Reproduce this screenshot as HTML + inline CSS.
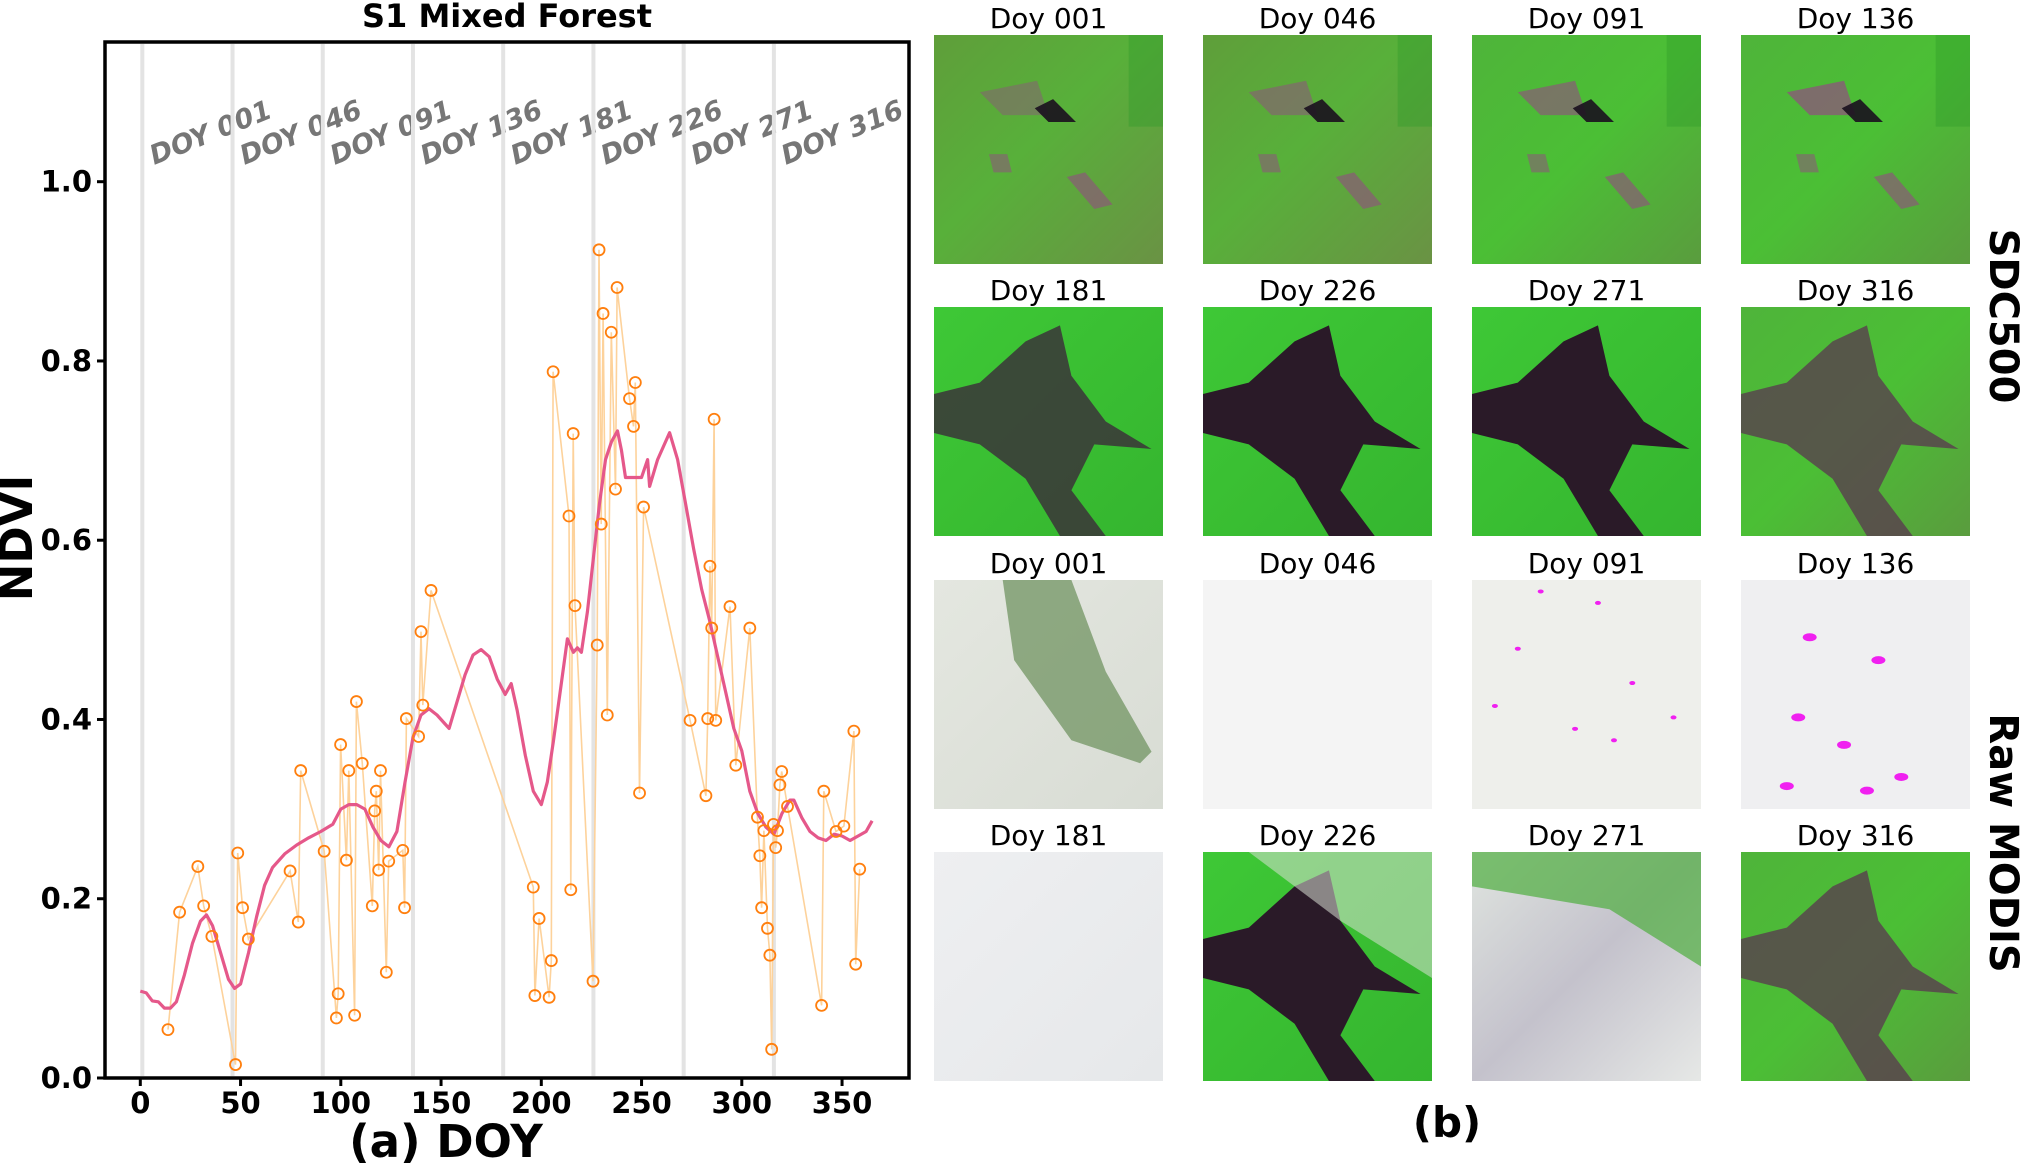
<!DOCTYPE html>
<html><head><meta charset="utf-8"><style>
html,body{margin:0;padding:0;background:#fff;}
svg{display:block;}
text{font-family:"DejaVu Sans","Liberation Sans",sans-serif;}
</style></head><body>
<svg id="root" width="2024" height="1163" viewBox="0 0 2024 1163" xmlns="http://www.w3.org/2000/svg">
<defs>
<linearGradient id="gOlive" x1="0" y1="0" x2="1" y2="1"><stop offset="0" stop-color="#5f9e3a"/><stop offset="0.45" stop-color="#58b03a"/><stop offset="1" stop-color="#6a9244"/></linearGradient>
<linearGradient id="gOlive2" x1="0" y1="0" x2="1" y2="1"><stop offset="0" stop-color="#4fb43a"/><stop offset="0.5" stop-color="#4bbf35"/><stop offset="1" stop-color="#5a9c3e"/></linearGradient>
<linearGradient id="gGreen" x1="0" y1="0" x2="1" y2="1"><stop offset="0" stop-color="#3ec836"/><stop offset="1" stop-color="#35b52f"/></linearGradient>
<linearGradient id="gCloud" x1="0" y1="0" x2="1" y2="1"><stop offset="0" stop-color="#e4e7e0"/><stop offset="1" stop-color="#d8dcd4"/></linearGradient>
<linearGradient id="gCloud2" x1="0" y1="0" x2="1" y2="1"><stop offset="0" stop-color="#eeeff1"/><stop offset="1" stop-color="#e6e8ea"/></linearGradient>
<linearGradient id="gMix" x1="0" y1="0" x2="1" y2="1"><stop offset="0" stop-color="#dfe4df"/><stop offset="0.5" stop-color="#c4c2cc"/><stop offset="1" stop-color="#e6e8e6"/></linearGradient>
</defs>
<g id="chart"></g>
<g id="panels"></g>
</svg>
<script>
const curveDays=[0,3,6,9,12,15,18,22,26,30,33,36,40,44,47,50,54,58,62,66,72,78,84,90,96,100,104,108,112,116,120,124,128,132,136,140,144,148,152,154,158,162,166,170,174,178,182,185,188,192,196,200,203,206,210,213,216,218,220,223,226,229,232,235,238,240,242,246,250,253,254,258,262,264,268,272,276,280,284,288,292,296,300,304,308,312,316,320,324,326,330,334,338,342,346,350,354,358,362,365];
const curveNdvi=[0.097,0.095,0.086,0.085,0.078,0.078,0.085,0.115,0.15,0.175,0.182,0.17,0.14,0.11,0.1,0.105,0.14,0.18,0.215,0.235,0.25,0.26,0.268,0.275,0.283,0.3,0.305,0.305,0.3,0.28,0.265,0.258,0.275,0.33,0.38,0.405,0.412,0.405,0.395,0.39,0.42,0.45,0.472,0.478,0.47,0.445,0.428,0.44,0.41,0.36,0.32,0.305,0.33,0.375,0.44,0.49,0.475,0.48,0.475,0.52,0.58,0.64,0.69,0.71,0.722,0.7,0.67,0.67,0.67,0.69,0.66,0.69,0.71,0.72,0.69,0.64,0.59,0.545,0.51,0.47,0.43,0.39,0.365,0.32,0.295,0.28,0.272,0.295,0.31,0.31,0.29,0.275,0.268,0.265,0.272,0.27,0.265,0.27,0.275,0.287];
const rawDays=[13.8,19.6,28.7,31.6,35.7,47.5,48.6,51,53.9,74.7,78.8,80,91.7,97.8,98.7,99.9,102.8,104,106.9,107.8,110.7,115.7,116.9,117.7,118.9,119.8,122.7,123.9,130.9,131.8,132.7,138.8,140,140.9,145,196,196.8,198.9,203.9,205,205.9,213.8,214.7,215.9,216.8,225.8,227.9,228.8,229.9,230.8,232.9,234.9,237,237.8,244,246,246.9,249,251,274.2,282.1,283,284.1,285,286.2,287,294.1,297,304,307.8,309,309.9,311,312.8,314,314.9,315.8,316.9,317.8,319,319.9,322.8,339.8,340.9,347,350.9,355.9,356.8,358.8];
const rawNdvi=[0.054,0.185,0.236,0.192,0.158,0.015,0.251,0.19,0.155,0.231,0.174,0.343,0.253,0.067,0.094,0.372,0.243,0.343,0.07,0.42,0.351,0.192,0.298,0.32,0.232,0.343,0.118,0.242,0.254,0.19,0.401,0.381,0.498,0.416,0.544,0.213,0.092,0.178,0.09,0.131,0.788,0.627,0.21,0.719,0.527,0.108,0.483,0.924,0.618,0.853,0.405,0.832,0.657,0.882,0.758,0.727,0.776,0.318,0.637,0.399,0.315,0.401,0.571,0.502,0.735,0.399,0.526,0.349,0.502,0.291,0.248,0.19,0.276,0.167,0.137,0.032,0.283,0.257,0.276,0.327,0.342,0.303,0.081,0.32,0.275,0.281,0.387,0.127,0.233];
const xTicks=[0,50,100,150,200,250,300,350];
const yTicks=[0.0,0.2,0.4,0.6,0.8,1.0];
const doyMarks=[1,46,91,136,181,226,271,316];
const doyLabels=["DOY 001","DOY 046","DOY 091","DOY 136","DOY 181","DOY 226","DOY 271","DOY 316"];

const NS="http://www.w3.org/2000/svg";
function mk(tag,attrs,parent,txt){const e=document.createElementNS(NS,tag);for(const k in attrs)e.setAttribute(k,attrs[k]);if(txt!==undefined)e.textContent=txt;parent.appendChild(e);return e;}
const X=d=>140.3+d*2.005;
const Y=v=>1078-v*896.3;
const chart=document.getElementById('chart');

doyMarks.forEach((d,i)=>{
  const l=mk('line',{x1:X(d),x2:X(d),y1:44,y2:1076,stroke:'#e3e3e3','stroke-width':4},chart);
  
  
  const t=mk('text',{x:X(d)+12,y:165,fill:'#767676','font-size':27,'font-weight':'bold','font-style':'italic','font-family':'Liberation Sans, sans-serif',transform:`rotate(-22 ${X(d)+12} 165)`},chart,doyLabels[i]);
  
  
});

const rawPath=rawDays.map((d,i)=>(i?'L':'M')+X(d).toFixed(1)+' '+Y(rawNdvi[i]).toFixed(1)).join(' ');
const rl=mk('path',{d:rawPath,fill:'none',stroke:'#fdd29b','stroke-width':1.6},chart);


const cPath=curveDays.map((d,i)=>(i?'L':'M')+X(d).toFixed(1)+' '+Y(curveNdvi[i]).toFixed(1)).join(' ');
const cl=mk('path',{d:cPath,fill:'none',stroke:'#e5588a','stroke-width':3.2,'stroke-linejoin':'round'},chart);


rawDays.forEach((d,i)=>{
  const c=mk('circle',{cx:X(d),cy:Y(rawNdvi[i]),r:5.5,fill:'none',stroke:'#ff7f0e','stroke-width':1.8},chart);
  
  
});
const fr=mk('rect',{x:105,y:42,width:804,height:1036,fill:'none',stroke:'#000','stroke-width':3.5},chart);


xTicks.forEach(v=>{
  mk('line',{x1:X(v),x2:X(v),y1:1078,y2:1086,stroke:'#000','stroke-width':3},chart);
  const t=mk('text',{x:X(v),y:1113,'text-anchor':'middle','font-size':29,'font-weight':'bold'},chart,String(v));
  
  
});
yTicks.forEach(v=>{
  mk('line',{x1:97,x2:105,y1:Y(v),y2:Y(v),stroke:'#000','stroke-width':3},chart);
  const t=mk('text',{x:92,y:Y(v)+10,'text-anchor':'end','font-size':29,'font-weight':'bold'},chart,v.toFixed(1));
  
  
});
let t=mk('text',{x:507,y:27,'text-anchor':'middle','font-size':32,'font-weight':'bold'},chart,'S1 Mixed Forest');


t=mk('text',{x:446,y:1157,'text-anchor':'middle','font-size':45,'font-weight':'bold'},chart,'(a) DOY');


t=mk('text',{x:32,y:538,'text-anchor':'middle','font-size':45,'font-weight':'bold',transform:'rotate(-90 32 538)'},chart,'NDVI');



const P=document.getElementById('panels');
const colX=[934,1203,1472,1741], rowY=[35,307,580,852], S=229;
const labels=["Doy 001","Doy 046","Doy 091","Doy 136","Doy 181","Doy 226","Doy 271","Doy 316"];
function blob(g,x,y,pts,fill,op){mk('polygon',{points:pts.map(p=>(x+p[0]*S)+','+(y+p[1]*S)).join(' '),fill:fill,opacity:op||1},g);}
const bigLake=[[0,0.38],[0.2,0.33],[0.4,0.15],[0.55,0.08],[0.6,0.3],[0.75,0.5],[0.95,0.62],[0.7,0.6],[0.6,0.8],[0.75,1],[0.55,1],[0.4,0.75],[0.2,0.6],[0,0.55]];
function drawPanel(r,c){
  const x=colX[c],y=rowY[r];
  const g=mk('g',{},P);
  
  
  const lt=mk('text',{x:x+S/2,y:y-7,'text-anchor':'middle','font-size':28},P,labels[(r%2)*4+c]);
  
  
  const k=r*4+c;
  if(r===0){
    mk('rect',{x:x,y:y,width:S,height:S,fill:c<2?'url(#gOlive)':'url(#gOlive2)'},g);
    mk('rect',{x:x+S*0.85,y:y,width:S*0.15,height:S*0.4,fill:'#2f9a2a',opacity:0.4},g);
    blob(g,x,y,[[0.2,0.25],[0.45,0.2],[0.5,0.35],[0.3,0.35]],'#8a5a78',0.5+c*0.1);
    blob(g,x,y,[[0.44,0.32],[0.52,0.28],[0.62,0.38],[0.5,0.38]],'#1a0f1e',0.9);
    blob(g,x,y,[[0.58,0.62],[0.66,0.6],[0.78,0.74],[0.7,0.76]],'#8a5a78',0.7);
    blob(g,x,y,[[0.24,0.52],[0.32,0.52],[0.34,0.6],[0.26,0.6]],'#8a5a78',0.6);
  } else if(r===1 || k===15){
    mk('rect',{x:x,y:y,width:S,height:S,fill:(c===3)?'url(#gOlive2)':'url(#gGreen)'},g);
    const col=(c===0)?'#3b2a3a':(c===3?'#5a3550':'#2a1a28');
    blob(g,x,y,bigLake,col,c===3?0.75:(c===0?0.8:1));
  } else if(k===8){
    mk('rect',{x:x,y:y,width:S,height:S,fill:'url(#gCloud)'},g);
    blob(g,x,y,[[0.3,0],[0.6,0],[0.75,0.4],[0.95,0.75],[0.9,0.8],[0.6,0.7],[0.35,0.35]],'#6a8f5a',0.7);
  } else if(k===9){
    mk('rect',{x:x,y:y,width:S,height:S,fill:'#f4f4f4'},g);
  } else if(k===10||k===11){
    mk('rect',{x:x,y:y,width:S,height:S,fill:k===10?'#eeefeb':'#efeff1'},g);
    const dots=k===10?[[0.3,0.05],[0.55,0.1],[0.2,0.3],[0.7,0.45],[0.45,0.65],[0.62,0.7],[0.1,0.55],[0.88,0.6]]:[[0.3,0.25],[0.6,0.35],[0.25,0.6],[0.45,0.72],[0.2,0.9],[0.7,0.86],[0.55,0.92]];
    dots.forEach(d=>mk('ellipse',{cx:x+d[0]*S,cy:y+d[1]*S,rx:k===10?3:7,ry:k===10?2:4,fill:'#f020f0'},g));
  } else if(k===12){
    mk('rect',{x:x,y:y,width:S,height:S,fill:'url(#gCloud2)'},g);
  } else if(k===13){
    mk('rect',{x:x,y:y,width:S,height:S,fill:'url(#gGreen)'},g);
    blob(g,x,y,bigLake,'#2a1a28');
    blob(g,x,y,[[0.2,0],[1,0],[1,0.55],[0.6,0.3]],'#d8e0d4',0.55);
  } else if(k===14){
    mk('rect',{x:x,y:y,width:S,height:S,fill:'url(#gMix)'},g);
    blob(g,x,y,[[0,0],[1,0],[1,0.5],[0.6,0.25],[0,0.15]],'#4fae3f',0.7);
  }
}
for(let r=0;r<4;r++)for(let c=0;c<4;c++)drawPanel(r,c);
t=mk('text',{x:2003,y:303,'text-anchor':'middle','font-size':40,'font-weight':'bold',transform:'rotate(90 1990 303)'},P,'SDC500');


t=mk('text',{x:2003,y:830,'text-anchor':'middle','font-size':40,'font-weight':'bold',transform:'rotate(90 1990 830)'},P,'Raw MODIS');


t=mk('text',{x:1447,y:1137,'text-anchor':'middle','font-size':42,'font-weight':'bold'},P,'(b)');


</script>
</body></html>
